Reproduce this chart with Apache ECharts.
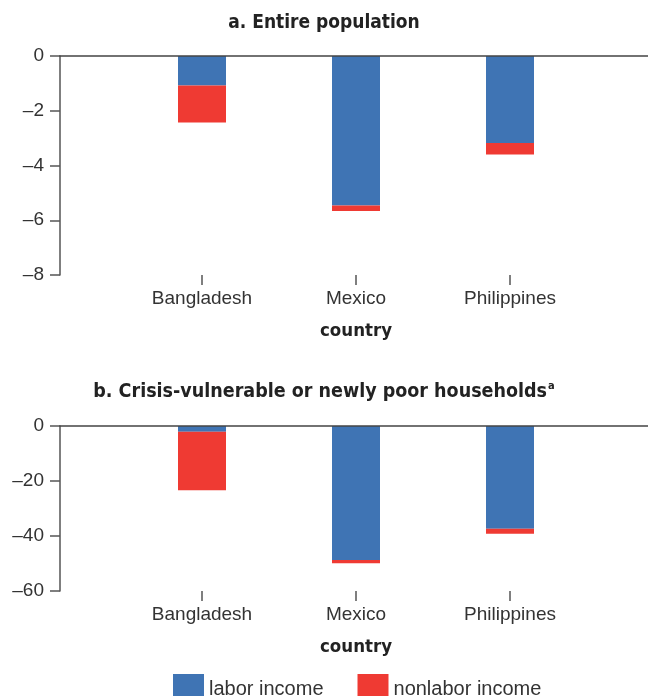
<!DOCTYPE html>
<html>
<head>
<meta charset="utf-8">
<script src="https://cdn.jsdelivr.net/npm/echarts@6/dist/echarts.min.js"></script>
<style>html,body{margin:0;padding:0;background:#fff}#c{width:648px;height:696px}</style>
</head>
<body>
<div id="c"></div>
<script>
var categories = ['Bangladesh', 'Mexico', 'Philippines'];
var laborA = [-1.08, -5.46, -3.18];
var nonlaborA = [-1.35, -0.2, -0.42];
var laborB = [-2.1, -48.7, -37.4];
var nonlaborB = [-21.3, -1.2, -1.8];
var yRangeA = [-8, 0, 2];
var yRangeB = [-60, 0, 20];
var titleA = 'a. Entire population';
var titleB = 'b. Crisis-vulnerable or newly poor households';
var titleBSup = 'a';
var xName = 'country';
var seriesNames = ['labor income', 'nonlabor income'];

var BLUE = '#3f74b4', RED = '#ef3a33';
var SANS = '"Liberation Sans", Arial, sans-serif';
var NARROW = '"Liberation Sans Narrow", "DejaVu Sans Condensed", "Roboto Condensed", sans-serif';
var AX = '#555';
function minus(v) { return v < 0 ? '\u2013' + Math.abs(v) : String(v); }

function barY(r) {
  return {
    type: 'value', min: r[0], max: r[1], interval: r[2], offset: 65,
    axisLine: { show: true, lineStyle: { color: AX, width: 1.5 } },
    axisTick: { show: true, length: 10, lineStyle: { color: AX, width: 1.5 } },
    axisLabel: { color: '#333', fontSize: 19, fontFamily: SANS, margin: 16, formatter: minus },
    splitLine: { show: false }
  };
}
function barX(gi) {
  return {
    type: 'category', gridIndex: gi, data: categories, position: 'bottom',
    axisLine: { show: false, onZero: false },
    axisTick: { show: true, alignWithLabel: true, length: 10, lineStyle: { color: AX, width: 1.5 } },
    axisLabel: { color: '#333', fontSize: 19, fontFamily: SANS, margin: 14 },
    name: xName, nameLocation: 'middle', nameGap: 47,
    nameTextStyle: { color: '#222', fontSize: 18.5, fontWeight: 'bold', fontFamily: NARROW }
  };
}
function lineX(gi) {
  return {
    type: 'value', gridIndex: gi, position: 'top', z: 10,
    axisLine: { show: true, onZero: false, lineStyle: { color: '#444', width: 1.5 } },
    axisTick: { show: false }, axisLabel: { show: false }, splitLine: { show: false }
  };
}
function lineY(gi, r) {
  return { type: 'value', gridIndex: gi, min: r[0], max: r[1], show: false };
}

var yA = barY(yRangeA); yA.gridIndex = 0;
var yB = barY(yRangeB); yB.gridIndex = 2;

var option = {
  animation: false,
  title: [
    { text: titleA, left: 'center', top: 9,
      textStyle: { fontSize: 19, fontWeight: 'bold', color: '#222', fontFamily: NARROW } },
    { text: '{m|' + titleB + '}{s|' + titleBSup + '}', left: 'center', top: 376,
      textStyle: { rich: {
        m: { fontSize: 19.5, fontWeight: 'bold', color: '#222', fontFamily: NARROW },
        s: { fontSize: 11, fontWeight: 'bold', color: '#222', fontFamily: NARROW, verticalAlign: 'top', padding: [0, 0, 10, 1] }
      } } }
  ],
  legend: {
    data: seriesNames, left: 168, top: 669, itemWidth: 31, itemHeight: 30, itemGap: 34,
    icon: 'rect', textStyle: { fontSize: 20, color: '#333', fontFamily: SANS }
  },
  grid: [
    { left: 125, right: 61, top: 56, bottom: 421 },
    { left: 60, right: 0, top: 56, bottom: 421 },
    { left: 125, right: 61, top: 426, bottom: 105 },
    { left: 60, right: 0, top: 426, bottom: 105 }
  ],
  xAxis: [barX(0), lineX(1), barX(2), lineX(3)],
  yAxis: [yA, lineY(1, yRangeA), yB, lineY(3, yRangeB)],
  series: [
    { name: seriesNames[0], type: 'bar', stack: 'a', xAxisIndex: 0, yAxisIndex: 0, data: laborA, barWidth: 48, itemStyle: { color: BLUE } },
    { name: seriesNames[1], type: 'bar', stack: 'a', xAxisIndex: 0, yAxisIndex: 0, data: nonlaborA, barWidth: 48, itemStyle: { color: RED } },
    { name: seriesNames[0], type: 'bar', stack: 'b', xAxisIndex: 2, yAxisIndex: 2, data: laborB, barWidth: 48, itemStyle: { color: BLUE } },
    { name: seriesNames[1], type: 'bar', stack: 'b', xAxisIndex: 2, yAxisIndex: 2, data: nonlaborB, barWidth: 48, itemStyle: { color: RED } }
  ]
};
echarts.init(document.getElementById('c')).setOption(option);
</script>
</body>
</html>
